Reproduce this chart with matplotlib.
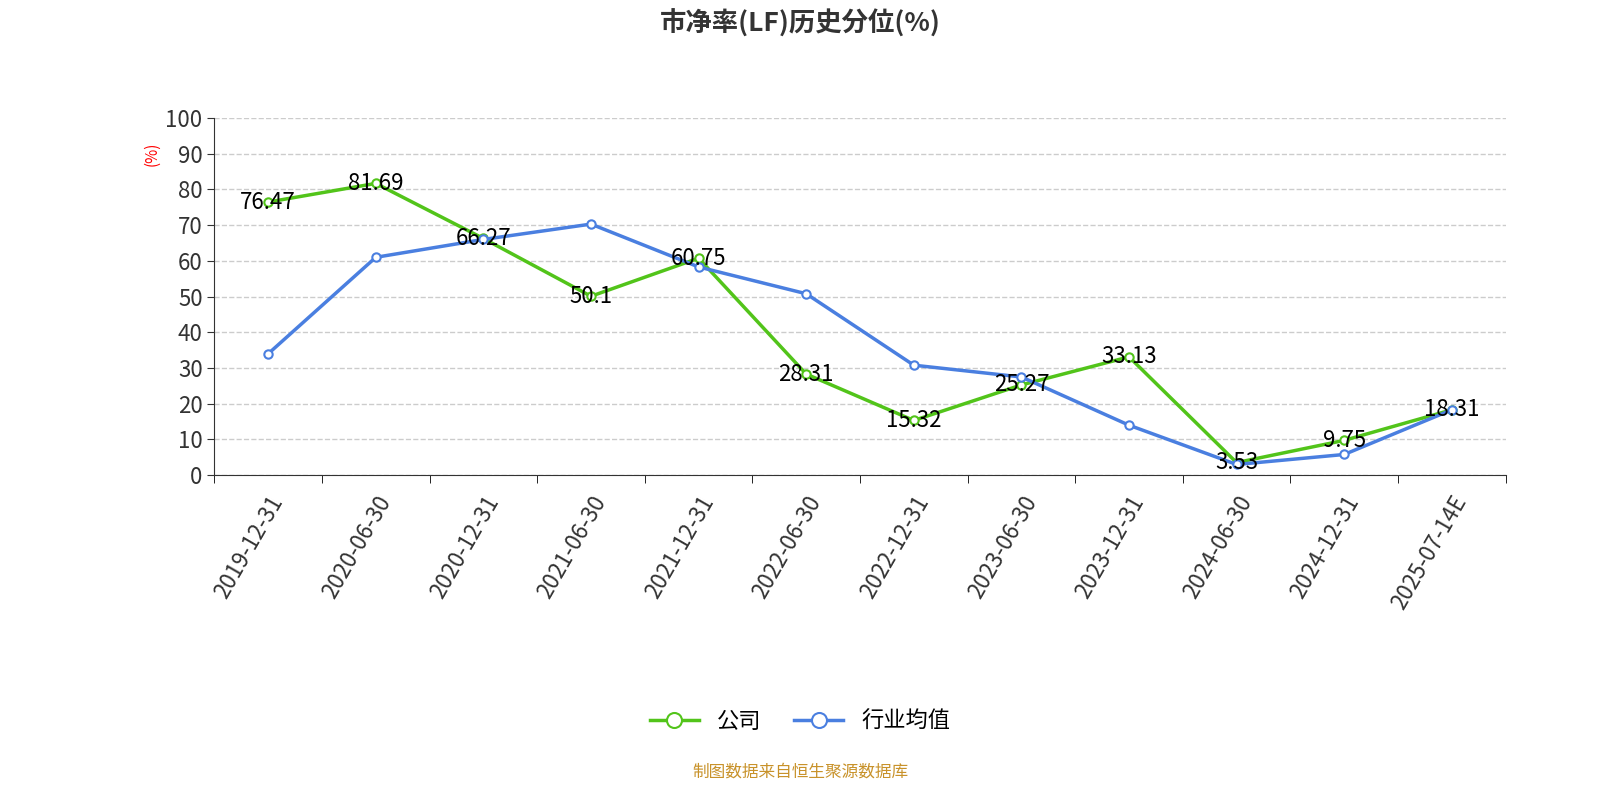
import numpy as np
import matplotlib.pyplot as plt
from matplotlib import font_manager

# pick whichever CJK family the font manager actually knows
names = {f.name for f in font_manager.fontManager.ttflist}
cjk = [n for n in ['Noto Sans CJK SC', 'Noto Sans CJK JP', 'Noto Sans CJK TC', 'Noto Sans CJK KR',
                   'Noto Sans SC', 'Noto Sans CJK'] if n in names]
if not cjk:
    cjk = [n for n in names if 'CJK' in n]
plt.rcParams['font.family'] = cjk + ['DejaVu Sans']

dates = ['2019-12-31', '2020-06-30', '2020-12-31', '2021-06-30', '2021-12-31', '2022-06-30',
         '2022-12-31', '2023-06-30', '2023-12-31', '2024-06-30', '2024-12-31', '2025-07-14E']
company = [76.47, 81.69, 66.27, 50.1, 60.75, 28.31, 15.32, 25.27, 33.13, 3.53, 9.75, 18.31]
industry = [34.0, 61.0, 66.0, 70.3, 58.3, 50.8, 30.8, 27.5, 14.0, 3.0, 5.8, 18.3]

green = '#52c41a'
blue = '#4a7fe0'

fig = plt.figure(figsize=(16, 8), dpi=100)
ax = fig.add_axes([0.134, 0.406, 0.807, 0.4465])
x = np.arange(len(dates))

ax.plot(x, company, color=green, lw=2.5, marker='o', ms=6, mfc='white', mec=green, mew=1.5, label='公司', zorder=3)
ax.plot(x, industry, color=blue, lw=2.5, marker='o', ms=6, mfc='white', mec=blue, mew=1.5, label='行业均值', zorder=3)
for xi, v in zip(x, company):
    ax.text(xi, v, f'{v:g}', ha='center', va='center', fontsize=16, color='black', zorder=4)

ax.set_xlim(-0.5, len(dates) - 0.5)
ax.set_ylim(0, 100)
ax.set_yticks(range(0, 101, 10))
ax.tick_params(axis='y', labelsize=16, colors='#333333', length=5)
ax.set_xticks(x)
ax.set_xticklabels(dates, rotation=60, ha='right', rotation_mode='anchor', fontsize=16, color='#333333')
ax.tick_params(axis='x', length=0, pad=12)
ax.set_xticks(np.arange(-0.5, len(dates)), minor=True)
ax.tick_params(axis='x', which='minor', length=6)
ax.grid(axis='y', ls='--', color='#cccccc', lw=1)
ax.set_axisbelow(True)
for s in ['top', 'right']:
    ax.spines[s].set_visible(False)
ax.spines['left'].set_color('#333333')
ax.spines['bottom'].set_color('#333333')
ax.text(-0.048, 0.9, '(%)', transform=ax.transAxes, rotation=90, color='red', fontsize=11, ha='center', va='center')

fig.text(0.5, 0.97, '市净率(LF)历史分位(%)', ha='center', va='center', fontsize=19, fontweight='bold', color='#333333')
fig.legend(loc='center', bbox_to_anchor=(0.5, 0.098), ncol=2, frameon=False, fontsize=16,
           handlelength=2.2, markerscale=1.8, columnspacing=1.5)
fig.text(0.5, 0.035, '制图数据来自恒生聚源数据库', ha='center', va='center', fontsize=12, color='#c8922a')

fig.savefig('out.png')
